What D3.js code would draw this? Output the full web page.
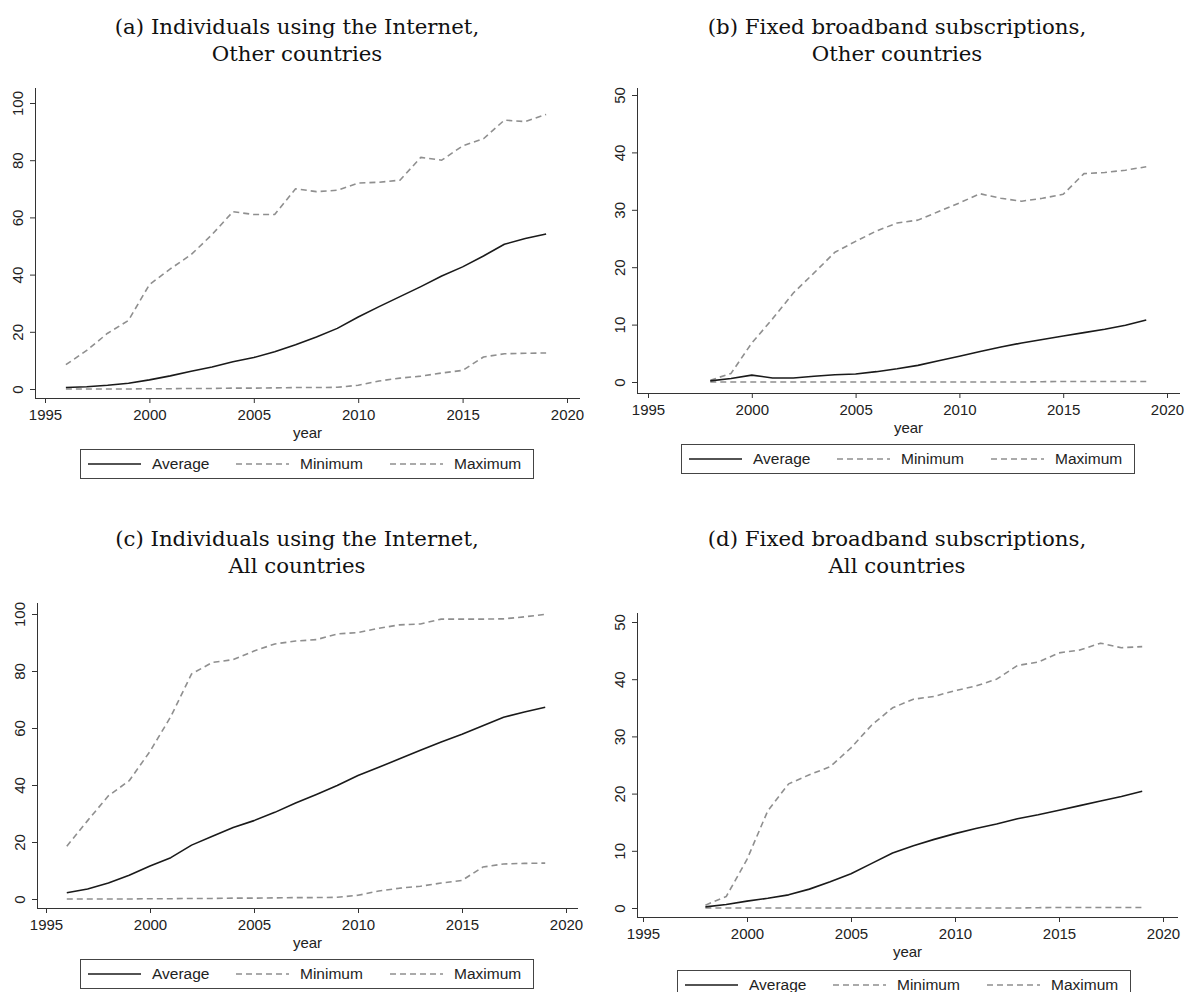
<!DOCTYPE html>
<html lang="en">
<head>
<meta charset="UTF-8">
<title>Internet and broadband: average, minimum, maximum</title>
<script src="https://d3js.org/d3.v7.min.js"></script>
<style>
    body { margin: 0; background: #fff; }
    .title { font-family: 'DejaVu Serif', 'Liberation Serif', serif; font-size: 21.3px; fill: #111; }
    .tick text, .axis-label, .legend text { font-family: 'Liberation Sans', Arial, sans-serif; fill: #222; }
    .tick text { font-size: 15px; }
    .axis-label { font-size: 15px; }
    .legend text { font-size: 15.5px; }
</style>
</head>
<body>
<div id="chart"></div>
<script>
// years
const years96 = d3.range(1996, 2020);
const years98 = d3.range(1998, 2020);

// (a) Individuals using the Internet, Other countries
const netOtherAvg = [0.5, 0.8, 1.3, 2.0, 3.2, 4.6, 6.2, 7.7, 9.5, 11.0, 13.0, 15.5, 18.2, 21.2, 25.2, 28.8, 32.3, 35.8, 39.5, 42.7, 46.5, 50.6, 52.6, 54.2];
const netOtherMin = [0.0, 0.0, 0.0, 0.0, 0.1, 0.1, 0.2, 0.2, 0.3, 0.3, 0.4, 0.5, 0.5, 0.6, 1.3, 2.8, 3.8, 4.5, 5.6, 6.5, 11.2, 12.3, 12.5, 12.6];
const netOtherMax = [8.5, 13.5, 19.5, 24.0, 36.5, 42.0, 47.0, 54.0, 62.0, 61.0, 61.0, 70.0, 69.0, 69.5, 72.0, 72.3, 73.0, 81.0, 80.0, 85.0, 87.5, 94.0, 93.5, 96.0];

// (b) Fixed broadband subscriptions, Other countries
const bbOtherAvg = [0.2, 0.6, 1.2, 0.7, 0.7, 1.0, 1.25, 1.4, 1.8, 2.3, 2.9, 3.7, 4.5, 5.3, 6.1, 6.8, 7.4, 8.0, 8.6, 9.2, 9.9, 10.8];
const bbOtherMin = [0.0, 0.0, 0.0, 0.0, 0.0, 0.0, 0.0, 0.0, 0.0, 0.0, 0.0, 0.0, 0.0, 0.0, 0.0, 0.0, 0.05, 0.1, 0.1, 0.1, 0.1, 0.1];
const bbOtherMax = [0.3, 1.5, 6.8, 11.0, 15.5, 19.0, 22.6, 24.5, 26.3, 27.7, 28.2, 29.7, 31.2, 32.8, 32.0, 31.5, 32.0, 32.7, 36.3, 36.5, 36.9, 37.5];

// (c) Individuals using the Internet, All countries
const netAllAvg = [2.2, 3.5, 5.6, 8.3, 11.6, 14.5, 18.9, 22.0, 25.1, 27.5, 30.4, 33.7, 36.7, 39.8, 43.3, 46.2, 49.2, 52.2, 55.1, 57.8, 60.8, 63.8, 65.6, 67.3];
const netAllMin = [0.0, 0.0, 0.0, 0.0, 0.1, 0.1, 0.2, 0.2, 0.3, 0.3, 0.4, 0.5, 0.5, 0.6, 1.3, 2.8, 3.8, 4.5, 5.6, 6.5, 11.2, 12.3, 12.5, 12.6];
const netAllMax = [18.5, 27.5, 36.2, 41.5, 51.8, 64.0, 79.0, 83.0, 84.0, 87.0, 89.5, 90.5, 91.0, 93.0, 93.5, 95.0, 96.2, 96.5, 98.2, 98.2, 98.2, 98.3, 99.0, 99.9];

// (d) Fixed broadband subscriptions, All countries
const bbAllAvg = [0.2, 0.6, 1.2, 1.7, 2.3, 3.3, 4.6, 6.0, 7.8, 9.6, 10.9, 12.0, 13.0, 13.9, 14.7, 15.6, 16.3, 17.1, 17.9, 18.7, 19.5, 20.4];
const bbAllMin = [0.0, 0.0, 0.0, 0.0, 0.0, 0.0, 0.0, 0.0, 0.0, 0.0, 0.0, 0.0, 0.0, 0.0, 0.0, 0.0, 0.05, 0.1, 0.1, 0.1, 0.1, 0.1];
const bbAllMax = [0.5, 2.0, 8.5, 17.0, 21.7, 23.3, 24.7, 28.0, 32.0, 35.0, 36.5, 37.0, 38.0, 38.8, 40.0, 42.4, 43.0, 44.6, 45.1, 46.3, 45.5, 45.7];

const xTicks = [1995, 2000, 2005, 2010, 2015, 2020];
const netTicks = [0, 20, 40, 60, 80, 100];
const bbTicks = [0, 10, 20, 30, 40, 50];
const seriesNames = ["Average", "Minimum", "Maximum"];

const svg = d3.select("#chart").append("svg")
    .attr("width", 1188)
    .attr("height", 992);

const panels = [
    { title: ["(a) Individuals using the Internet,", "Other countries"], years: years96,
      series: [netOtherAvg, netOtherMin, netOtherMax], yMax: 100, yTicks: netTicks,
      cx: 297, titleY: 28, axisX: 35, axisTop: 88, axisRight: 580, axisY: 398,
      x0: 45, x1: 567, y0: 389, yTop: 103, legend: [80, 449] },
    { title: ["(b) Fixed broadband subscriptions,", "Other countries"], years: years98,
      series: [bbOtherAvg, bbOtherMin, bbOtherMax], yMax: 50, yTicks: bbTicks,
      cx: 897, titleY: 28, axisX: 637, axisTop: 88, axisRight: 1180, axisY: 393,
      x0: 648, x1: 1167, y0: 382, yTop: 95, legend: [681, 444] },
    { title: ["(c) Individuals using the Internet,", "All countries"], years: years96,
      series: [netAllAvg, netAllMin, netAllMax], yMax: 100, yTicks: netTicks,
      cx: 297, titleY: 540, axisX: 37, axisTop: 603, axisRight: 578, axisY: 908,
      x0: 46, x1: 566, y0: 899, yTop: 614, legend: [80, 959] },
    { title: ["(d) Fixed broadband subscriptions,", "All countries"], years: years98,
      series: [bbAllAvg, bbAllMin, bbAllMax], yMax: 50, yTicks: bbTicks,
      cx: 897, titleY: 540, axisX: 637, axisTop: 613, axisRight: 1178, axisY: 917,
      x0: 643, x1: 1163, y0: 908, yTop: 622, legend: [677, 970] }
];

const styles = [
    { color: "#1a1a1a", dash: null },
    { color: "#8f8f8f", dash: "6,4" },
    { color: "#8f8f8f", dash: "6,4" }
];
const legendOffsets = [8, 156, 310];

panels.forEach(function(p) {
    const g = svg.append("g");

    // title
    g.selectAll("text.title")
        .data(p.title)
        .enter().append("text")
        .attr("class", "title")
        .attr("x", p.cx)
        .attr("y", function(d, i) { return p.titleY + i * 27; })
        .attr("text-anchor", "middle")
        .attr("dominant-baseline", "middle")
        .text(function(d) { return d; });

    const x = d3.scaleLinear().domain([1995, 2020]).range([p.x0, p.x1]);
    const y = d3.scaleLinear().domain([0, p.yMax]).range([p.y0, p.yTop]);

    // x axis
    const xAxis = g.append("g")
        .attr("transform", "translate(0," + p.axisY + ")")
        .call(d3.axisBottom(x).tickValues(xTicks).tickFormat(d3.format("d")).tickSize(5).tickSizeOuter(0));
    xAxis.select(".domain").attr("d", "M" + p.axisX + ",0.5H" + p.axisRight);
    xAxis.selectAll("line, path").attr("stroke", "#333");
    xAxis.selectAll("text").attr("dy", "0.9em");

    // y axis
    const yAxis = g.append("g")
        .attr("transform", "translate(" + p.axisX + ",0)")
        .call(d3.axisLeft(y).tickValues(p.yTicks).tickSize(5).tickSizeOuter(0));
    yAxis.select(".domain").attr("d", "M0.5," + p.axisTop + "V" + p.axisY);
    yAxis.selectAll("line, path").attr("stroke", "#333");
    yAxis.selectAll("text")
        .attr("x", 0).attr("dy", 0)
        .attr("transform", "translate(-12,0) rotate(-90)")
        .attr("text-anchor", "middle");

    g.append("text")
        .attr("class", "axis-label")
        .attr("x", (p.axisX + p.axisRight) / 2)
        .attr("y", p.axisY + 40)
        .attr("text-anchor", "middle")
        .text("year");

    // lines (draw min/max first, average on top)
    const line = d3.line()
        .x(function(d, i) { return x(p.years[i]); })
        .y(function(d) { return y(d); });

    [2, 1, 0].forEach(function(k) {
        g.append("path")
            .datum(p.series[k])
            .attr("fill", "none")
            .attr("stroke", styles[k].color)
            .attr("stroke-width", 1.6)
            .attr("stroke-dasharray", styles[k].dash)
            .attr("stroke-linejoin", "round")
            .attr("d", line);
    });

    // legend
    const lg = g.append("g").attr("class", "legend")
        .attr("transform", "translate(" + p.legend[0] + "," + p.legend[1] + ")");
    lg.append("rect")
        .attr("x", 0.5).attr("y", 0.5)
        .attr("width", 453).attr("height", 29)
        .attr("fill", "none").attr("stroke", "#444").attr("stroke-width", 1);
    const items = lg.selectAll("g.item")
        .data(seriesNames)
        .enter().append("g")
        .attr("transform", function(d, i) { return "translate(" + legendOffsets[i] + ",15)"; });
    items.append("line")
        .attr("x1", 0).attr("x2", 53)
        .attr("stroke", function(d, i) { return styles[i].color; })
        .attr("stroke-width", 1.6)
        .attr("stroke-dasharray", function(d, i) { return styles[i].dash; });
    items.append("text")
        .attr("x", 64)
        .attr("dy", "0.35em")
        .text(function(d) { return d; });
});
</script>
</body>
</html>
